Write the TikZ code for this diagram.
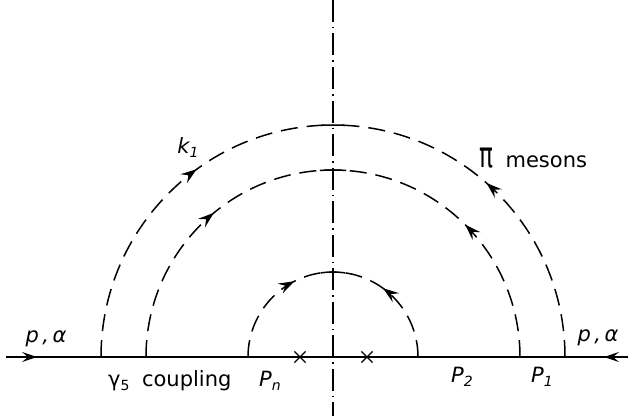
\documentclass[tikz,border=0pt]{standalone}
\usepackage{fontspec}
\setmainfont{DejaVu Sans}
\usetikzlibrary{arrows.meta,decorations.markings,shapes.misc}
\newcommand\sbs[1]{\raisebox{-4pt}{\fontsize{14}{14}\selectfont #1}}
\begin{document}
\begin{tikzpicture}[x=1pt,y=1pt,
  baseline/.style={line width=1.6pt},
  cut/.style={line width=1.5pt, dash pattern=on 22pt off 5pt on 1.5pt off 5pt},
  meson/.style={line width=1.5pt, dash pattern=on 17pt off 9pt},
  tick/.style={line width=1.5pt},
  tip/.style={-{Stealth[length=15pt,width=10pt,inset=6pt]}},
  marrow/.style={postaction={decorate},
    decoration={markings, mark=at position #1 with {\arrow[solid,line width=1.2pt]{Stealth[length=16pt,width=11pt,inset=6pt]}}}},
  cross/.style={draw, cross out, minimum size=10pt, inner sep=0pt, line width=1.2pt},
  lbl/.style={font=\fontsize{21}{21}\selectfont, inner sep=0pt},
  ilbl/.style={font=\fontsize{21}{21}\selectfont\itshape, inner sep=0pt}]
\useasboundingbox (0,0) rectangle (629,416);
% key points
\coordinate (O) at (333,59);
\coordinate (Lend) at (6,59);
\coordinate (Ltip) at (37,59);
\coordinate (Rend) at (628,59);
\coordinate (Rtip) at (604,59);
\coordinate (Vtop) at (333,416);
\coordinate (Vbot) at (333,0);
% baseline with arrows
\draw[baseline] (Lend) -- (Rend);
\draw[baseline,tip] (Lend) -- (Ltip);
\draw[baseline,tip] (Rend) -- (Rtip);
% vertical cut
\draw[cut] (Vtop) -- (Vbot);
% crosses
\node[cross] (x1) at (300,59) {};
\node[cross] (x2) at (367,59) {};
% outer arc  R=232
\draw[meson,marrow=0.6] (O) ++(180:232) arc[start angle=180,end angle=90,radius=232];
\draw[meson,marrow=0.54] (O) ++(0:232) arc[start angle=0,end angle=90,radius=232];
\draw[tick] (O) ++(93:232) arc[start angle=93,end angle=87,radius=232];
% middle arc R=187
\draw[meson,marrow=0.56] (O) ++(180:187) arc[start angle=180,end angle=90,radius=187];
\draw[meson,marrow=0.5] (O) ++(0:187) arc[start angle=0,end angle=90,radius=187];
\draw[tick] (O) ++(94:187) arc[start angle=94,end angle=86,radius=187];
% inner arc R=85
\draw[meson,marrow=0.7] (O) ++(180:85) arc[start angle=180,end angle=90,radius=85];
\draw[meson,marrow=0.6] (O) ++(0:85) arc[start angle=0,end angle=90,radius=85];
\draw[tick] (O) ++(98:85) arc[start angle=98,end angle=82,radius=85];
% labels
\node[ilbl] (pL) at (46,77) {p\,,\,α};
\node[ilbl] (pR) at (598,78) {p\,,\,α};
\node[lbl,anchor=west] (g5) at (108,35) {γ\sbs{5}\; coupling};
\node[ilbl,anchor=west] (Pn) at (259,35) {P\sbs{n}};
\node[ilbl,anchor=west] (P2) at (451,39) {P\sbs{2}};
\node[ilbl,anchor=west] (P1) at (531,39) {P\sbs{1}};
\node[ilbl] (k1) at (188,268) {k\sbs{1}};
\node[lbl,anchor=west] (pim) at (479,258) {\scalebox{1.1}[1.7]{π}\; mesons};
\end{tikzpicture}
\end{document}
